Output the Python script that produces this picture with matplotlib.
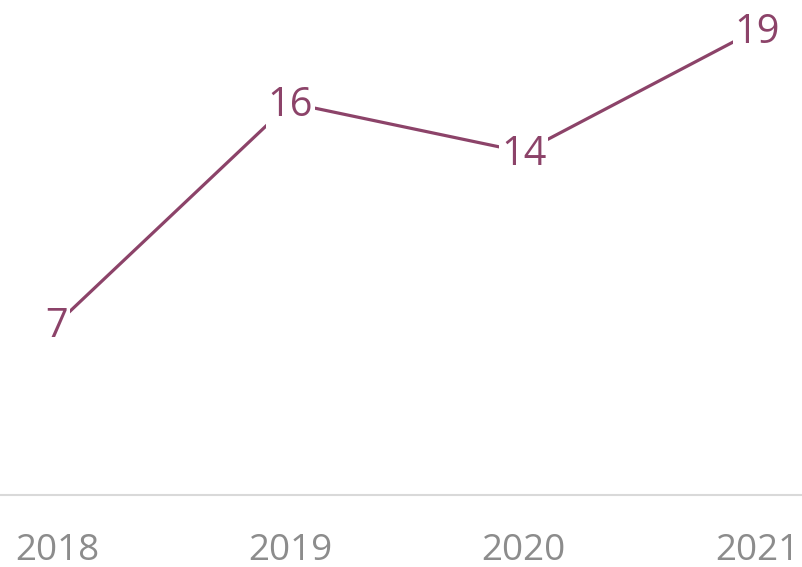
import matplotlib.pyplot as plt

years = ["2018", "2019", "2020", "2021"]
values = [7, 16, 14, 19]

color = "#8C4369"

fig = plt.figure(figsize=(8.03, 5.67), dpi=100)
ax = fig.add_axes([0, 72 / 567, 1, 490 / 567])

x = range(len(years))
ax.plot(x, values, color=color, linewidth=2.3, solid_capstyle="butt")

for xi, v in zip(x, values):
    ax.annotate(str(v), (xi, v), xytext=(0, -2), textcoords="offset points",
                ha="center", va="center", fontsize=28.5,
                family="Open Sans", color=color,
                bbox=dict(facecolor="white", edgecolor="none", pad=1))

ax.set_xlim(-57 / 233.3, 3 + 46 / 233.3)
ax.set_ylim(0, 20)
ax.set_xticks(list(x))
ax.set_xticklabels(years, fontsize=26.5, color="#8C8C8C", family="Open Sans")
ax.tick_params(axis="x", length=0, pad=27)
ax.set_yticks([])
for s in ["top", "right", "left"]:
    ax.spines[s].set_visible(False)
ax.spines["bottom"].set_color("#D9D9D9")
ax.spines["bottom"].set_linewidth(1.5)

fig.savefig("out.png", dpi=100)
